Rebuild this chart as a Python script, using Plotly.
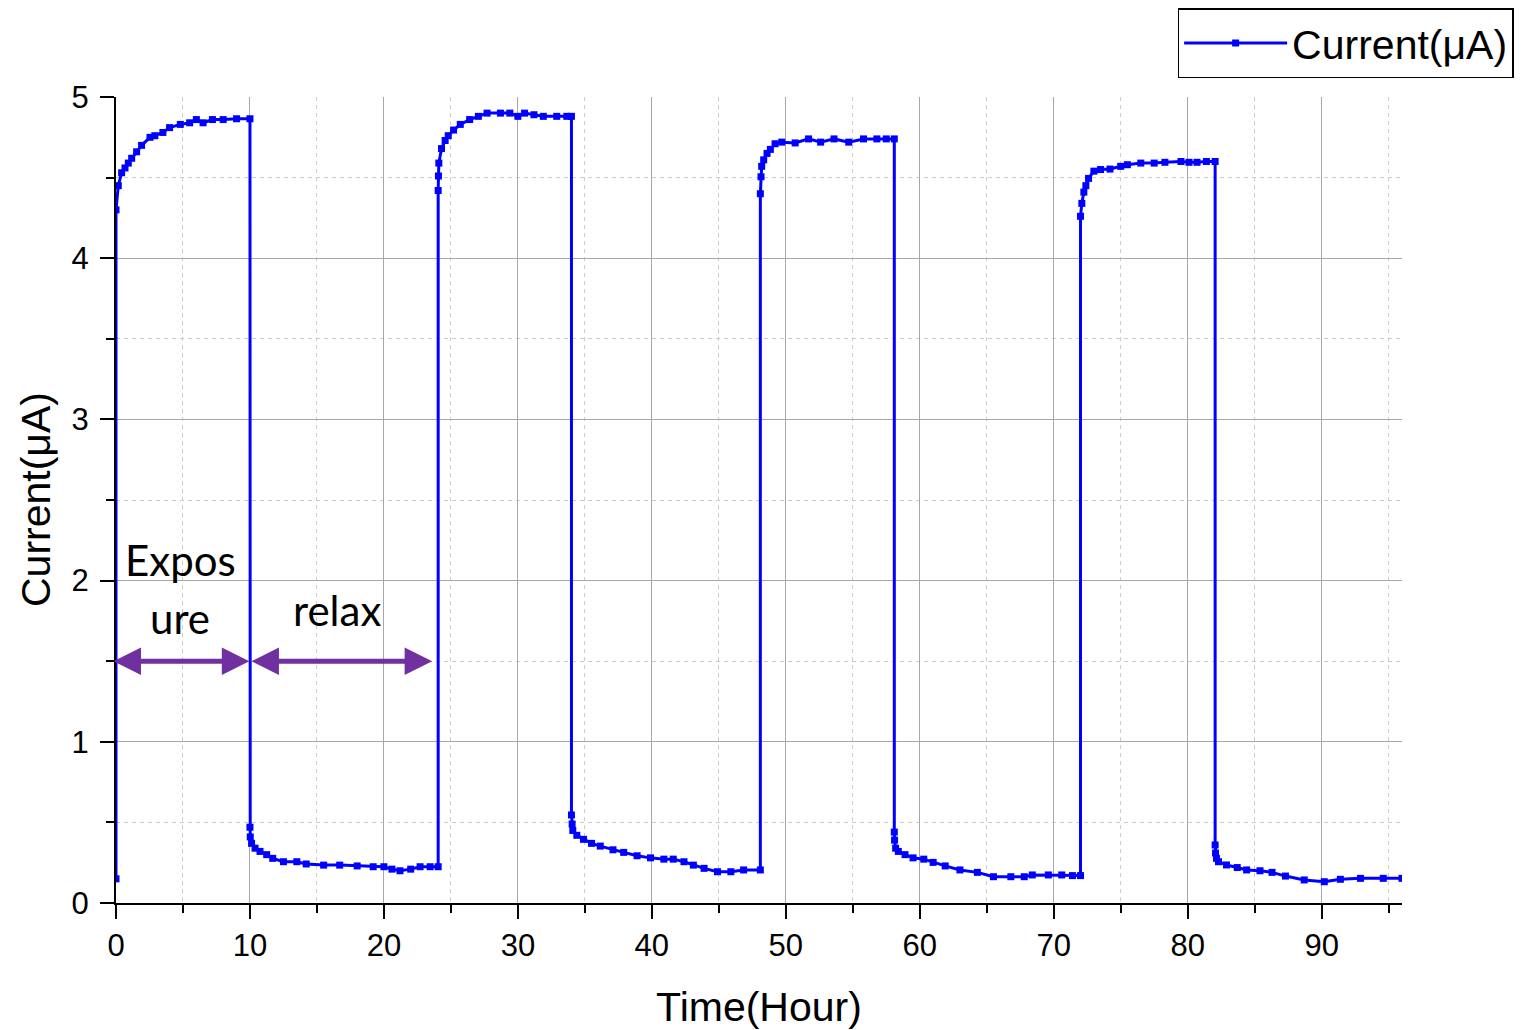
import plotly.graph_objects as go

# ---- data ----
start_t = [0.0]
start_i = [0.15]

exp1_t = [0.0, 0.17, 0.42, 0.67, 0.92, 1.17, 1.54, 1.91, 2.54, 2.9, 3.5, 4.0, 4.8, 5.5, 6.0, 6.5, 7.2, 8.0, 9.0, 10.0]
exp1_i = [4.30, 4.45, 4.53, 4.56, 4.59, 4.62, 4.66, 4.70, 4.75, 4.76, 4.78, 4.81, 4.83, 4.84, 4.86, 4.84, 4.86, 4.86, 4.865, 4.865]

rel1_t = [10.0, 10.02, 10.12, 10.38, 10.75, 11.25, 11.7, 12.5, 13.5, 14.2, 15.5, 16.7, 18.0, 19.2, 20.0, 20.6, 21.2, 22.0, 22.7, 23.45, 24.05]
rel1_i = [0.47, 0.41, 0.37, 0.34, 0.32, 0.30, 0.277, 0.256, 0.256, 0.242, 0.235, 0.235, 0.23, 0.225, 0.225, 0.21, 0.20, 0.21, 0.225, 0.225, 0.225]

exp2_t = [24.05, 24.07, 24.1, 24.3, 24.57, 24.8, 25.2, 25.7, 26.4, 27.05, 27.7, 28.7, 29.4, 30.0, 30.5, 31.2, 31.9, 32.9, 33.65, 34.0]
exp2_i = [4.42, 4.51, 4.59, 4.68, 4.73, 4.76, 4.795, 4.83, 4.86, 4.88, 4.90, 4.90, 4.90, 4.88, 4.90, 4.89, 4.88, 4.88, 4.88, 4.88]

rel2_t = [34.0, 34.05, 34.1, 34.4, 34.9, 35.5, 36.15, 37.1, 37.9, 38.9, 39.9, 40.9, 41.6, 42.4, 43.1, 43.9, 44.9, 45.9, 46.85, 48.1]
rel2_i = [0.546, 0.49, 0.45, 0.42, 0.395, 0.37, 0.353, 0.33, 0.314, 0.293, 0.28, 0.272, 0.272, 0.256, 0.235, 0.215, 0.194, 0.194, 0.205, 0.205]

exp3_t = [48.1, 48.15, 48.2, 48.35, 48.6, 48.85, 49.2, 49.7, 50.7, 51.7, 52.6, 53.6, 54.7, 55.8, 56.8, 57.5, 58.1]
exp3_i = [4.40, 4.505, 4.57, 4.61, 4.65, 4.675, 4.71, 4.72, 4.715, 4.74, 4.72, 4.74, 4.72, 4.74, 4.74, 4.74, 4.74]

rel3_t = [58.1, 58.12, 58.2, 58.4, 58.9, 59.5, 60.3, 61.0, 61.9, 63.0, 64.3, 65.5, 66.8, 67.8, 68.4, 69.6, 70.6, 71.4, 72.0]
rel3_i = [0.44, 0.39, 0.34, 0.32, 0.30, 0.28, 0.272, 0.252, 0.23, 0.205, 0.19, 0.163, 0.163, 0.163, 0.174, 0.174, 0.174, 0.17, 0.17]

exp4_t = [72.0, 72.1, 72.25, 72.4, 72.6, 73.0, 73.5, 74.2, 75.0, 75.5, 76.5, 77.5, 78.3, 79.5, 80.1, 80.7, 81.4, 82.05]
exp4_i = [4.26, 4.34, 4.41, 4.45, 4.495, 4.54, 4.55, 4.553, 4.57, 4.58, 4.59, 4.59, 4.595, 4.60, 4.595, 4.595, 4.60, 4.60]

rel4_t = [82.05, 82.08, 82.15, 82.3, 82.9, 83.7, 84.4, 85.4, 86.3, 87.3, 88.7, 90.2, 91.4, 92.9, 94.6, 96.0]
rel4_i = [0.36, 0.31, 0.277, 0.256, 0.236, 0.22, 0.205, 0.20, 0.19, 0.167, 0.143, 0.132, 0.147, 0.153, 0.153, 0.153]

time_h = start_t + exp1_t + rel1_t + exp2_t + rel2_t + exp3_t + rel3_t + exp4_t + rel4_t
current_ua = start_i + exp1_i + rel1_i + exp2_i + rel2_i + exp3_i + rel3_i + exp4_i + rel4_i

x_ticks = [0, 10, 20, 30, 40, 50, 60, 70, 80, 90]
y_ticks = [0, 1, 2, 3, 4, 5]

arrow_y = 1.5
exposure_span = [-0.3, 9.95]
relax_span = [10.0, 23.6]

# ---- figure ----
fig = go.Figure()
fig.add_trace(go.Scatter(
    x=time_h, y=current_ua, mode="lines+markers", name="Current(μA)",
    line=dict(color="#0000FF", width=3),
    marker=dict(symbol="square", size=7, color="#0000FF"),
))

purple = "#7030A0"
for span in (exposure_span, relax_span):
    fig.add_annotation(
        x=span[1], y=arrow_y, ax=span[0], ay=arrow_y,
        xref="x", yref="y", axref="x", ayref="y",
        showarrow=True, arrowhead=2, startarrowhead=2, arrowside="end+start",
        arrowsize=1.1, startarrowsize=1.1, arrowwidth=5, arrowcolor=purple,
        standoff=0, startstandoff=0, text="",
    )

text_font = dict(family="Lato, 'Open Sans', sans-serif", size=42, color="black")
fig.add_annotation(x=4.8, y=2.13, text="Expos", showarrow=False, font=text_font)
fig.add_annotation(x=4.8, y=1.77, text="ure", showarrow=False, font=text_font)
fig.add_annotation(x=16.5, y=1.82, text="relax", showarrow=False, font=text_font)

axis_font = dict(family="Liberation Sans, Arial, sans-serif", size=31, color="black")
title_font = dict(family="Liberation Sans, Arial, sans-serif", size=41, color="black")

# y-axis title placed as rotated text left of the tick labels
fig.add_annotation(x=-0.0622, y=0.5, xref="paper", yref="paper", text="Current(μA)",
                   textangle=-90, showarrow=False, font=title_font,
                   xanchor="center", yanchor="middle")

fig.update_xaxes(
    range=[0, 96], tickvals=x_ticks, ticktext=[str(v) for v in x_ticks],
    showline=True, linecolor="black", linewidth=2,
    ticks="outside", ticklen=14, tickwidth=2, tickcolor="black",
    showgrid=True, gridcolor="#a8a8a8", gridwidth=1.2, zeroline=False,
    minor=dict(dtick=5, tick0=5, ticks="outside", ticklen=8, tickwidth=2, tickcolor="black",
               showgrid=True, gridcolor="#cccccc", griddash="4px,4px", gridwidth=1),
    tickfont=axis_font, automargin=False,
    title=dict(text="Time(Hour)", font=title_font, standoff=30),
)
fig.update_yaxes(
    range=[0, 5], tickvals=y_ticks, ticktext=[str(v) for v in y_ticks],
    showline=True, linecolor="black", linewidth=2,
    ticks="outside", ticklen=14, tickwidth=2, tickcolor="black",
    showgrid=True, gridcolor="#a8a8a8", gridwidth=1.2, zeroline=False,
    minor=dict(dtick=0.5, tick0=0.5, ticks="outside", ticklen=8, tickwidth=2, tickcolor="black",
               showgrid=True, gridcolor="#cccccc", griddash="4px,4px", gridwidth=1),
    tickfont=axis_font, automargin=False, ticklabelstandoff=5,
)

fig.update_layout(
    width=1532, height=1030,
    margin=dict(l=108, r=138, t=89, b=135, autoexpand=False),
    paper_bgcolor="white", plot_bgcolor="white",
    showlegend=True,
    legend=dict(
        x=1.0868, y=1.11, xanchor="right", yanchor="top",
        bordercolor="black", borderwidth=1.5, bgcolor="white",
        font=dict(family="Liberation Sans, Arial, sans-serif", size=41, color="black"),
        itemwidth=103,
    ),
)

fig.write_html("out.html")
